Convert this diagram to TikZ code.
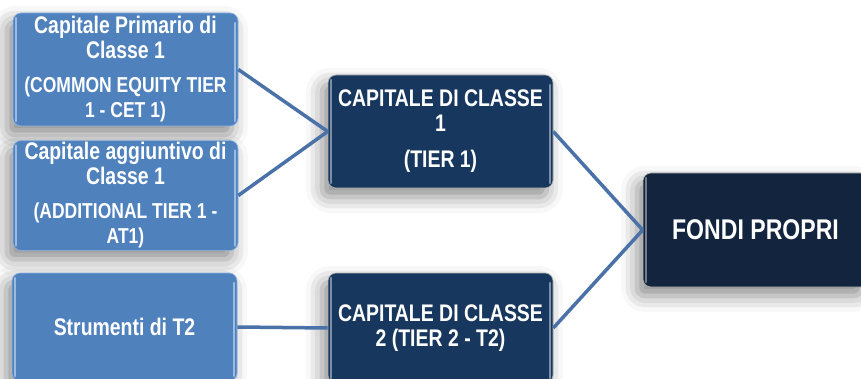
\documentclass[tikz,border=0pt]{standalone}
\usepackage{fontspec}
\setmainfont{Liberation Sans}[FakeStretch=0.81]
\usepackage{tikz}
\usetikzlibrary{shadows.blur}

\definecolor{bluchiaro}{HTML}{4F81BD}
\definecolor{bordochiaro}{HTML}{8DB3E2}
\definecolor{bluscuro}{HTML}{17375E}
\definecolor{blunotte}{HTML}{12243E}
\definecolor{linea}{HTML}{4A72A8}

\newcommand{\sotto}{\fontsize{21.6}{22}\selectfont}

\begin{document}
\begin{tikzpicture}[
            x=1pt, y=1pt,
            box/.style={rectangle, rounded corners=8pt, minimum width=225pt,
                text=white, font=\bfseries\fontsize{24}{25}\selectfont, align=center, inner sep=2pt,
                blur shadow={shadow xshift=-6pt, shadow yshift=-9pt,
                    shadow blur radius=16pt, shadow opacity=45}},
            bevel/.style={path picture={
                \draw[#1, line width=2.5pt, line cap=round, opacity=0.8]
                    ([xshift=3pt,yshift=-5pt]path picture bounding box.north west) --
                    ([xshift=3pt,yshift=5pt]path picture bounding box.south west);
                \draw[#1, line width=2.5pt, line cap=round, opacity=0.8]
                    ([xshift=-3pt,yshift=-10pt]path picture bounding box.north east) --
                    ([xshift=-3pt,yshift=5pt]path picture bounding box.south east);}},
            lightbox/.style={box, fill=bluchiaro, draw=bordochiaro, line width=0.6pt, bevel=bordochiaro!70!white},
            darkbox/.style={box, fill=bluscuro, draw=gray!60, line width=0.6pt, bevel=bluscuro!45!white},
            topbox/.style={box, fill=blunotte, draw=gray!60, line width=0.6pt, bevel=blunotte!50!white,
                font=\bfseries\fontsize{28.5}{30}\selectfont},
            link/.style={linea, line width=3.5pt},
        ]
            \useasboundingbox (0,0) rectangle (861,-379);

            % --- Elementi di base (colonna sinistra) ---
            \node[lightbox, minimum height=113pt] (cet) at (125.5,-69.5)
                {Capitale Primario di\\ Classe 1\\[9pt]
                 \sotto (COMMON EQUITY TIER\\ \sotto 1 - CET 1)};
            \node[lightbox, minimum height=105pt] (at) at (125.5,-195.5)
                {Capitale aggiuntivo di\\ Classe 1\\[9pt]
                 \sotto (ADDITIONAL TIER 1 -\\ \sotto AT1)};
            \node[lightbox, minimum height=108pt] (strum) at (124.5,-327) {Strumenti di T2};

            % --- Livelli di capitale (colonna centrale) ---
            \node[darkbox, minimum height=113pt] (tier1) at (440.5,-131.5)
                {CAPITALE DI CLASSE\\ 1\\[11pt] (TIER 1)};
            \node[darkbox, minimum height=110pt] (tier2) at (440.5,-328)
                {CAPITALE DI CLASSE\\ 2 (TIER 2 - T2)};

            % --- Totale ---
            \node[topbox, minimum height=114pt] (fondi) at (755.5,-230) {FONDI PROPRI};

            % --- Collegamenti ---
            \draw[link] (cet.east) -- (tier1.west);
            \draw[link] (at.east) -- (tier1.west);
            \draw[link] (strum.east) -- (tier2.west);
            \draw[link] (tier1.east) -- (fondi.west);
            \draw[link] (tier2.east) -- (fondi.west);
        \end{tikzpicture}
\end{document}
